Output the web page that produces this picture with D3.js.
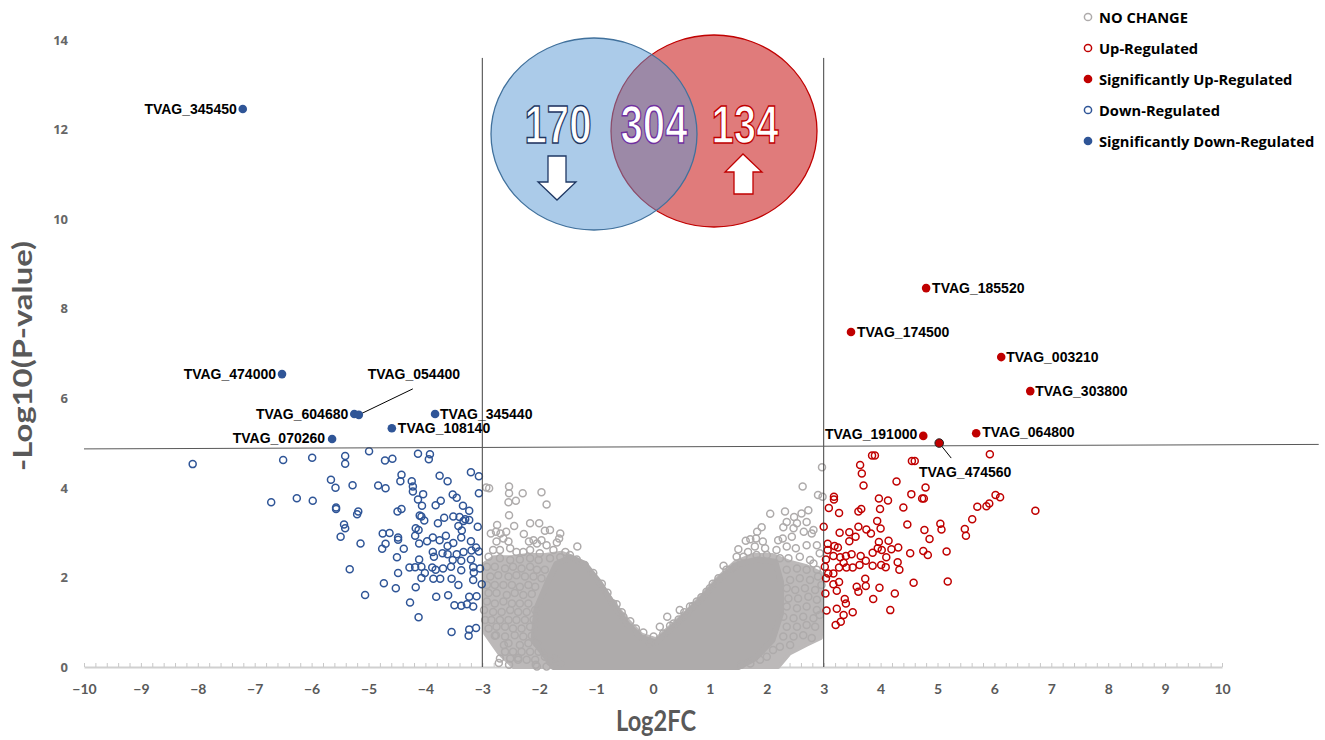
<!DOCTYPE html>
<html lang="en">
<head>
<meta charset="UTF-8">
<title>Volcano plot</title>
<style>
  body { margin: 0; background: #fff; }
  svg { display: block; }
</style>
</head>
<body>
<svg id="volcano" width="1325" height="740"></svg>
<script src="https://cdn.jsdelivr.net/npm/d3@7"></script>
<script>
// ---- data ----
const xTicks = [-10,-9,-8,-7,-6,-5,-4,-3,-2,-1,0,1,2,3,4,5,6,7,8,9,10];
const yTicks = [0,2,4,6,8,10,12,14];
const foldCutoffs = [-3, 3];
const pCutoff = [[-10, 4.87], [11.7, 4.97]];
const vennCounts = [170, 304, 134];

const legendItems = ["NO CHANGE", "Up-Regulated", "Significantly Up-Regulated", "Down-Regulated", "Significantly Down-Regulated"];

const sigDown = [
  {id: "TVAG_345450", x: -7.21, y: 12.46},
  {id: "TVAG_474000", x: -6.52, y: 6.54},
  {id: "TVAG_604680", x: -5.25, y: 5.65},
  {id: "TVAG_054400", x: -5.17, y: 5.63},
  {id: "TVAG_070260", x: -5.64, y: 5.09},
  {id: "TVAG_108140", x: -4.59, y: 5.33},
  {id: "TVAG_345440", x: -3.83, y: 5.65}
];
const sigUp = [
  {id: "TVAG_185520", x: 4.80, y: 8.46},
  {id: "TVAG_174500", x: 3.48, y: 7.48},
  {id: "TVAG_003210", x: 6.12, y: 6.92},
  {id: "TVAG_303800", x: 6.63, y: 6.16},
  {id: "TVAG_191000", x: 4.75, y: 5.16},
  {id: "TVAG_064800", x: 5.68, y: 5.22},
  {id: "TVAG_474560", x: 5.03, y: 5.00}
];

const downPoints = [
  [-8.09,4.53],[-6.50,4.62],[-5.99,4.67],[-5.41,4.71],[-5.41,4.54],[-4.99,4.82],[-4.71,4.61],[-4.58,4.65],[-4.13,4.76],[-3.92,4.75],[-3.94,4.64],
  [-5.66,4.18],[-5.58,4.00],[-5.28,4.06],[-4.83,4.05],[-4.70,3.99],[-4.42,4.29],[-4.44,4.15],[-4.24,4.15],[-4.22,4.03],[-4.22,3.92],[-4.04,3.86],[-4.06,3.60],
  [-3.75,4.27],[-3.61,4.15],[-3.20,4.35],[-3.06,4.26],[-3.06,3.88],[-3.52,3.85],[-3.45,3.78],[-3.34,3.60],[-3.23,3.49],[-3.30,3.30],
  [-6.71,3.68],[-6.26,3.77],[-5.98,3.71],[-5.57,3.56],[-5.57,3.53],[-5.18,3.47],[-5.20,3.41],[-4.49,3.47],[-4.42,3.53],[-4.13,3.74],[-4.10,3.38],
  [-4.07,3.36],[-4.02,3.27],[-3.82,3.61],[-3.73,3.71],[-3.78,3.21],[-3.67,3.33],[-3.51,3.36],[-3.40,3.35],[-3.33,3.26],[-3.23,3.28],[-3.42,3.15],[-3.36,3.05],[-3.08,3.13],
  [-5.43,3.18],[-5.41,3.10],[-5.49,2.91],[-5.14,2.76],[-4.75,2.98],[-4.63,2.99],[-4.70,2.75],[-4.76,2.64],[-4.48,2.89],[-4.48,2.84],[-4.38,2.64],
  [-4.17,3.10],[-4.12,3.06],[-4.18,2.93],[-4.11,2.76],[-3.97,2.81],[-3.87,2.89],[-3.75,2.83],[-3.64,2.93],[-3.61,2.70],[-3.51,2.77],[-3.37,2.89],
  [-3.20,2.81],[-3.11,2.67],[-3.19,2.60],[-3.33,2.57],[-3.45,2.52],[-3.87,2.57],[-3.85,2.46],[-3.70,2.54],[-3.61,2.52],[-3.52,2.39],[-3.37,2.37],[-3.20,2.40],[-3.06,2.58],
  [-4.50,2.45],[-4.11,2.40],[-4.28,2.22],[-4.18,2.23],[-4.07,2.24],[-3.88,2.22],[-3.69,2.20],[-3.55,2.24],[-3.37,2.16],[-3.16,2.23],[-3.04,2.20],[-4.48,2.10],[-4.01,2.10],[-3.82,2.17],
  [-5.33,2.18],[-4.73,1.87],[-4.52,1.76],[-4.17,1.78],[-4.07,1.99],[-3.86,1.97],[-3.74,1.97],[-3.54,1.97],[-3.42,1.83],[-3.16,1.94],[-3.01,1.85],[-3.15,2.11],
  [-5.06,1.61],[-4.27,1.44],[-3.81,1.57],[-3.60,1.60],[-3.49,1.38],[-3.37,1.37],[-3.27,1.40],[-3.16,1.35],[-3.23,1.57],[-3.10,1.58],
  [-4.12,1.11],[-3.54,0.78],[-3.23,0.84],[-3.11,0.87],[-3.24,0.70]
];

const upPoints = [
  [3.85,4.72],[3.90,4.72],[4.55,4.60],[4.60,4.60],[5.92,4.75],[3.64,4.51],[3.67,4.32],[3.70,4.05],[4.28,4.14],[4.79,4.01],[4.54,3.86],[4.73,3.76],[4.76,3.76],
  [3.18,3.80],[3.18,3.74],[3.97,3.76],[4.13,3.72],[3.99,3.53],[4.40,3.56],[3.66,3.53],[3.61,3.47],[3.09,3.55],[3.27,3.44],
  [6.02,3.84],[6.10,3.79],[5.70,3.58],[5.86,3.59],[5.91,3.65],[6.72,3.49],[5.61,3.30],[5.48,3.08],[5.50,2.93],[5.05,3.20],[5.07,3.07],[4.77,3.06],[4.86,2.86],
  [4.47,3.18],[3.94,3.26],[4.00,3.09],[3.00,3.13],[3.28,3.00],[3.45,3.01],[3.61,3.13],[3.75,3.07],[3.83,2.98],[3.56,2.91],[3.45,2.81],[3.07,2.75],[3.19,2.70],
  [3.25,2.67],[3.07,2.61],[3.04,2.40],[3.02,2.24],[3.17,2.48],[3.29,2.45],[3.39,2.48],[3.49,2.52],[3.65,2.48],[3.86,2.55],[3.95,2.65],[3.97,2.79],[4.14,2.82],
  [4.02,2.61],[4.10,2.45],[4.19,2.63],[4.31,2.67],[4.52,2.54],[4.75,2.59],[4.83,2.50],[5.16,2.58],[3.35,2.33],[3.27,2.22],[3.40,2.22],[3.51,2.22],[3.63,2.28],
  [3.74,2.37],[3.86,2.26],[4.01,2.28],[4.09,2.23],[4.30,2.34],[4.33,2.17],[3.08,2.09],[3.17,2.09],[3.04,1.98],[3.73,1.97],[5.18,1.91],[4.58,1.88],[3.17,1.85],
  [3.27,1.90],[3.23,1.70],[3.03,1.64],[3.58,1.79],[3.61,1.68],[3.74,1.81],[3.98,1.77],[4.25,1.64],[3.37,1.52],[3.39,1.42],[3.87,1.52],[3.05,1.26],[3.23,1.30],
  [3.51,1.22],[4.17,1.27],[3.35,1.16],[3.21,0.94],[3.30,1.01]
];

// grey cloud: outline of the loose outer band, outline of the solid core,
// and the points that can be told apart
const greyOuter = [
  [-2.45,0],[-2.7,0.3],[-2.95,0.75],[-2.97,1.2],[-2.97,2.3],[-2.8,2.45],[-2.5,2.45],[-2.2,2.5],[-1.9,2.5],[-1.6,2.55],[-1.4,2.45],
  [-1.2,2.25],[-0.95,1.9],[-0.7,1.45],[-0.45,1.05],[-0.2,0.72],[0.05,0.62],[0.3,0.9],[0.6,1.25],[0.9,1.65],[1.15,2.0],
  [1.45,2.35],[1.75,2.5],[2.1,2.5],[2.4,2.35],[2.7,2.25],[2.95,2.1],[2.97,1.2],[2.95,0.65],[2.7,0.5],[2.4,0.3],[2.2,0]
];
const greyCore = [
  [-1.75,0],[-2.1,0.6],[-2.05,1.3],[-1.85,1.9],[-1.7,2.3],[-1.45,2.45],[-1.2,2.3],[-0.95,1.9],[-0.7,1.4],[-0.45,0.95],
  [-0.2,0.65],[0.05,0.55],[0.4,0.95],[0.8,1.45],[1.2,2.0],[1.5,2.3],[1.85,2.4],[2.15,2.35],[2.25,1.9],[2.25,1.2],
  [2.1,0.6],[1.8,0.2],[1.5,0]
];
const greyPoints = [
  [-2.93,4.01],[-2.88,3.99],[-2.53,4.03],[-2.53,3.88],[-2.54,3.68],[-2.41,3.71],[-2.29,3.88],[-1.96,3.90],[-1.87,3.63],[-2.53,3.39],
  [-2.44,3.15],[-2.16,3.21],[-2.00,3.21],[-2.74,3.17],[-2.76,3.02],[-2.85,2.98],[-2.68,2.98],[-2.58,3.02],[-2.63,2.87],[-2.27,2.97],
  [-1.90,3.04],[-1.81,3.06],[-1.63,2.98],[-1.65,2.87],[-1.69,2.78],[-1.33,2.69],[-2.10,2.83],[-2.04,2.76],[-2.18,2.80],[-1.96,2.83],
  [-1.87,2.72],[-2.75,2.80],[-2.54,2.80],[-2.51,2.65],[-2.81,2.61],[-2.69,2.61],[-2.40,2.57],[-2.28,2.57],[-2.16,2.61],[-1.99,2.54],
  [-1.75,2.61],[-1.54,2.57],[-1.46,2.50],[-1.34,2.40],[-1.20,2.28],[-2.89,2.46],[-2.69,2.43],[-2.51,2.39],[-2.34,2.40],[-2.16,2.43],
  [-2.01,2.39],[-1.81,2.43],[-1.63,2.45],
  [-2.92,2.24],[-2.78,2.24],[-2.60,2.20],[-2.46,2.24],[-2.31,2.20],[-2.16,2.24],[-2.04,2.17],[-1.90,2.17],[-2.86,2.02],[-2.72,2.05],
  [-2.54,2.02],[-2.40,2.05],[-2.25,2.02],[-2.10,2.02],[-1.96,1.98],[-2.92,1.83],[-2.78,1.83],[-2.63,1.83],[-2.48,1.83],[-2.34,1.79],
  [-2.19,1.83],[-2.07,1.79],[-2.89,1.65],[-2.75,1.65],[-2.57,1.61],[-2.43,1.65],[-2.28,1.61],[-2.13,1.63],[-2.92,1.46],[-2.78,1.42],
  [-2.63,1.46],[-2.48,1.42],[-2.34,1.42],[-2.19,1.42],[-2.81,1.23],[-2.66,1.23],[-2.51,1.27],[-2.37,1.23],[-2.22,1.23],[-2.07,1.27],
  [-2.84,1.05],[-2.69,1.05],[-2.54,1.05],[-2.40,1.05],[-2.25,1.05],[-2.10,1.06],[-2.75,0.90],[-2.60,0.90],[-2.46,0.86],[-2.31,0.86],
  [-2.16,0.90],[-2.78,0.70],[-2.60,0.68],[-2.43,0.71],[-2.28,0.68],[-2.13,0.70],[-2.54,0.53],[-2.34,0.49],[-2.19,0.53],[-2.04,0.53],
  [-2.60,0.34],[-2.46,0.34],[-2.31,0.34],[-2.16,0.34],[-2.01,0.34],[-2.69,0.19],[-2.51,0.19],[-2.37,0.16],[-2.22,0.16],[-2.07,0.16],
  [-1.90,0.23],[-1.81,0.12],[-1.72,0.19],[-1.63,0.08],[-2.04,0.01],[-1.87,0.01],
  [-2.97,1.27],[-2.95,1.05],[-2.89,0.86],[-2.76,0.71],[-0.17,0.77],[-0.52,1.12],[-0.70,1.42],
  [-2.71,0.09],[-2.53,0.05],[-2.62,0.49],[-2.37,0.20],[-2.06,0.05],
  [-1.05,2.10],[-0.90,1.86],[-0.80,1.66],[-0.64,1.40],[-0.55,1.22],[-0.40,1.02],[-0.30,0.86],
  [0.30,0.92],[0.45,1.06],[0.55,1.22],[0.70,1.36],[0.85,1.56],[1.05,1.86],
  [2.63,4.03],[2.90,3.84],[2.98,3.80],[2.97,4.46],[2.06,3.42],[2.32,3.47],[2.48,3.35],[2.61,3.43],[2.73,3.50],[2.53,3.21],[2.70,3.24],
  [2.35,3.24],[2.29,3.12],[2.47,3.10],[2.65,3.02],[2.79,2.98],[2.82,3.06],[1.91,3.12],[1.83,3.02],[1.71,2.85],[1.63,2.82],
  [1.81,2.87],[1.93,2.80],[1.97,2.65],[1.79,2.69],[2.20,2.83],[2.28,2.87],[2.44,2.91],[2.35,2.69],[2.51,2.65],[2.70,2.72],
  [2.88,2.72],[2.93,2.54],[1.50,2.63],[1.67,2.57],[1.59,2.46],[1.82,2.50],[2.00,2.50],[2.17,2.61],[2.23,2.43],[2.38,2.43],
  [2.58,2.46],[2.76,2.39],[2.82,2.31],[2.88,2.17],[1.47,2.46],[1.24,2.26],[1.35,2.17],
  [2.35,2.17],[2.53,2.20],[2.70,2.17],[2.41,1.94],[2.58,1.98],[2.76,1.94],[2.90,2.02],[2.35,1.76],[2.50,1.72],[2.67,1.76],
  [2.85,1.72],[2.96,1.83],[2.38,1.53],[2.55,1.53],[2.73,1.57],[2.88,1.50],[2.35,1.35],[2.53,1.31],[2.70,1.35],[2.88,1.27],
  [2.29,1.12],[2.47,1.09],[2.64,1.12],[2.82,1.09],[2.93,1.16],[2.35,0.90],[2.53,0.90],[2.70,0.94],[2.85,0.90],[2.29,0.68],
  [2.47,0.68],[2.64,0.71],[2.79,0.65],[2.23,0.45],[2.41,0.49],[2.11,0.38],[2.00,0.23],[1.88,0.16],[1.71,0.08],[1.55,0.05],
  [0.12,0.90],[0.25,1.12],[0.47,1.27],[0.65,1.35],[0.77,1.46],[0.94,1.68],[1.00,1.76],[1.15,1.98],[1.29,2.17],
  [1.44,2.24],[0.36,0.97],[0.59,1.12],[0.01,0.68],[-0.05,0.53],[0.18,0.75]
];

// ---- layout ----
const svg = d3.select("#volcano");
const x = d3.scaleLinear().domain([-10, 10]).range([84, 1222]);
const y = d3.scaleLinear().domain([0, 14]).range([667, 40]);

const GREY = "#aeabab", GREY_LIGHT = "#bcb9b9", RED = "#c00000", BLUE = "#2f5597", AXIS_TXT = "#595959";

// label placement for the named genes (pixels relative to point)
const labelPos = {
  TVAG_345450: {anchor: "end", dx: -6, dy: 0},
  TVAG_474000: {anchor: "end", dx: -6, dy: 0},
  TVAG_604680: {anchor: "end", dx: -6, dy: 0},
  TVAG_054400: {anchor: "middle", dx: 55, dy: -41, lead: [54, -26]},
  TVAG_070260: {anchor: "end", dx: -7, dy: -1},
  TVAG_108140: {anchor: "start", dx: 6, dy: 0},
  TVAG_345440: {anchor: "start", dx: 5, dy: 0},
  TVAG_185520: {anchor: "start", dx: 6, dy: 0},
  TVAG_174500: {anchor: "start", dx: 6, dy: 0},
  TVAG_003210: {anchor: "start", dx: 5, dy: 0},
  TVAG_303800: {anchor: "start", dx: 5, dy: 0},
  TVAG_191000: {anchor: "end", dx: -6, dy: -2},
  TVAG_064800: {anchor: "start", dx: 6, dy: -1},
  TVAG_474560: {anchor: "middle", dx: 26, dy: 29, lead: [12, 15]}
};

// x axis: light baseline with minor ticks every 0.2
const minor = d3.range(-10, 10.001, 0.2);
const xAxis = svg.append("g")
  .attr("transform", `translate(0,${y(0)})`)
  .call(d3.axisBottom(x).tickValues(minor).tickSizeInner(-4).tickSizeOuter(0).tickFormat(""));
xAxis.select(".domain").attr("stroke", "#d0d0d0").attr("stroke-width", 2);
xAxis.selectAll(".tick line").attr("stroke", "#c8c8c8");

svg.append("g")
  .attr("transform", `translate(0,${y(0)})`)
  .call(d3.axisBottom(x).tickValues(xTicks).tickSize(0).tickPadding(17))
  .call(g => g.select(".domain").remove())
  .selectAll("text")
  .style("font-family", "Lato, 'Open Sans', sans-serif")
  .style("font-weight", "bold")
  .style("font-size", "14px")
  .attr("fill", AXIS_TXT);

svg.append("g")
  .attr("transform", "translate(70,0)")
  .call(d3.axisLeft(y).tickValues(yTicks).tickSize(0).tickPadding(2))
  .call(g => g.select(".domain").remove())
  .selectAll("text")
  .style("font-family", "'Open Sans', sans-serif")
  .style("font-weight", "bold")
  .style("font-size", "13px")
  .attr("fill", "#666");

// axis titles
svg.append("text")
  .attr("x", 656).attr("y", 731)
  .attr("text-anchor", "middle")
  .attr("textLength", 80).attr("lengthAdjust", "spacingAndGlyphs")
  .style("font-family", "Lato, sans-serif").style("font-weight", "bold").style("font-size", "28px")
  .attr("fill", AXIS_TXT)
  .text("Log2FC");

svg.append("text")
  .attr("transform", "translate(32,356) rotate(-90)")
  .attr("text-anchor", "middle")
  .attr("textLength", 230).attr("lengthAdjust", "spacingAndGlyphs")
  .style("font-family", "Lato, sans-serif").style("font-weight", "bold").style("font-size", "27px")
  .attr("fill", AXIS_TXT)
  .text("-Log10(P-value)");

// grey cloud
const plot = svg.append("g");
const areaLine = d3.line().x(d => x(d[0])).y(d => y(d[1])).curve(d3.curveLinearClosed);
plot.append("path")
  .datum(greyOuter)
  .attr("d", areaLine)
  .attr("fill", GREY_LIGHT).attr("stroke", GREY_LIGHT).attr("stroke-width", 4).attr("stroke-linejoin", "round");
plot.append("path")
  .datum(greyCore)
  .attr("d", areaLine)
  .attr("fill", GREY).attr("stroke", GREY).attr("stroke-width", 6).attr("stroke-linejoin", "round");

plot.selectAll(".grey").data(greyPoints).join("circle")
  .attr("class", "grey")
  .attr("cx", d => x(d[0])).attr("cy", d => y(d[1])).attr("r", 3.5)
  .attr("fill", "none").attr("stroke", GREY).attr("stroke-width", 1.5);

// cutoff lines
svg.selectAll(".vcut").data(foldCutoffs).join("line")
  .attr("class", "vcut")
  .attr("x1", d => x(d)).attr("x2", d => x(d))
  .attr("y1", y(13.6)).attr("y2", y(0))
  .attr("stroke", "#404040").attr("stroke-width", 1);

svg.append("line")
  .attr("x1", x(pCutoff[0][0])).attr("y1", y(pCutoff[0][1]))
  .attr("x2", x(pCutoff[1][0])).attr("y2", y(pCutoff[1][1]))
  .attr("stroke", "#595959").attr("stroke-width", 1);

// regulated (open) points
plot.selectAll(".down").data(downPoints).join("circle")
  .attr("class", "down")
  .attr("cx", d => x(d[0])).attr("cy", d => y(d[1])).attr("r", 3.5)
  .attr("fill", "none").attr("stroke", BLUE).attr("stroke-width", 1.5);

plot.selectAll(".up").data(upPoints).join("circle")
  .attr("class", "up")
  .attr("cx", d => x(d[0])).attr("cy", d => y(d[1])).attr("r", 3.5)
  .attr("fill", "none").attr("stroke", RED).attr("stroke-width", 1.5);

// significant (filled) points with labels
function drawSig(data, color) {
  const g = svg.append("g");
  data.forEach(d => {
    const p = labelPos[d.id];
    const cx = x(d.x), cy = y(d.y);
    if (p.lead) {
      g.append("line")
        .attr("x1", cx).attr("y1", cy)
        .attr("x2", cx + p.lead[0]).attr("y2", cy + p.lead[1])
        .attr("stroke", "#000").attr("stroke-width", 1);
    }
    g.append("circle")
      .attr("cx", cx).attr("cy", cy).attr("r", 4.3)
      .attr("fill", color)
      .attr("stroke", d.id === "TVAG_474560" ? "#222" : "none");
    g.append("text")
      .attr("x", cx + p.dx).attr("y", cy + p.dy)
      .attr("text-anchor", p.anchor)
      .attr("dominant-baseline", "central")
      .style("font-family", "'Liberation Sans', Arial, sans-serif")
      .style("font-weight", "bold").style("font-size", "14px")
      .attr("fill", "#000")
      .text(d.id);
  });
}
drawSig(sigDown, BLUE);
drawSig(sigUp, RED);

// venn diagram
const venn = svg.append("g");
venn.append("ellipse").attr("cx", 714).attr("cy", 131).attr("rx", 103).attr("ry", 96)
  .attr("fill", "#e07b7b").attr("stroke", RED).attr("stroke-width", 1.3);
venn.append("ellipse").attr("cx", 594).attr("cy", 134).attr("rx", 103).attr("ry", 96)
  .attr("fill", "rgb(87,151,211)").attr("fill-opacity", 0.5)
  .attr("stroke", "#41719c").attr("stroke-width", 1.3);

const vennText = [
  {v: vennCounts[0], cx: 558, stroke: "#1f3864"},
  {v: vennCounts[1], cx: 654, stroke: "#7030a0"},
  {v: vennCounts[2], cx: 745, stroke: RED}
];
venn.selectAll(".vnum").data(vennText).join("text")
  .attr("class", "vnum")
  .attr("x", d => d.cx).attr("y", 143)
  .attr("text-anchor", "middle")
  .attr("textLength", 67).attr("lengthAdjust", "spacingAndGlyphs")
  .style("font-family", "'Liberation Sans', Arial, sans-serif")
  .style("font-weight", "bold")
  .style("font-size", "53px")
  .attr("fill", "#fff").attr("stroke", d => d.stroke).attr("stroke-width", 1.5)
  .text(d => d.v);

// arrows
venn.append("path")
  .attr("d", "M548,156 L566,156 L566,182 L576,182 L557,200 L538,182 L548,182 Z")
  .attr("fill", "#fff").attr("stroke", "#1f3864").attr("stroke-width", 1.3);
venn.append("path")
  .attr("d", "M734,194 L753,194 L753,172 L762,172 L743,154 L725,172 L734,172 Z")
  .attr("fill", "#fff").attr("stroke", RED).attr("stroke-width", 1.3);

// legend
const legendStyle = [
  {fill: "none", stroke: GREY},
  {fill: "none", stroke: RED},
  {fill: RED, stroke: RED},
  {fill: "none", stroke: BLUE},
  {fill: BLUE, stroke: BLUE}
];
const legend = svg.append("g").attr("transform", "translate(1088,17)");
legendItems.forEach((name, i) => {
  const row = legend.append("g").attr("transform", `translate(0,${i * 31})`);
  row.append("circle").attr("r", 3.6)
    .attr("fill", legendStyle[i].fill).attr("stroke", legendStyle[i].stroke).attr("stroke-width", 1.5);
  row.append("text")
    .attr("x", 11).attr("dominant-baseline", "central")
    .style("font-family", "'Open Sans', sans-serif").style("font-weight", "bold").style("font-size", "14.7px")
    .attr("fill", "#000")
    .text(name);
});
</script>
</body>
</html>
